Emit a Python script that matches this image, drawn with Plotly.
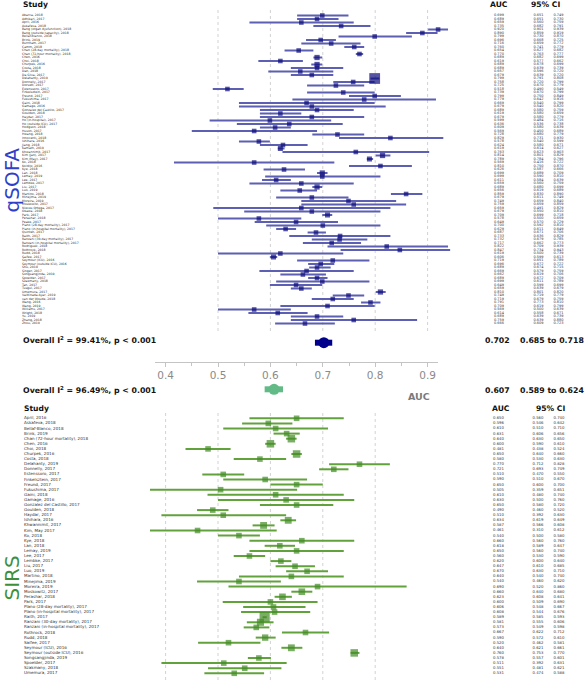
import plotly.graph_objects as go

W, H = 586, 680

# ---------------- qSOFA data ----------------
q_studies = [
    "Abarca, 2018", "Adhikari, 2017", "April, 2016", "Askafeva, 2018",
    "Bang (organ dysfunction), 2018", "Bang (outside capacity), 2018",
    "Bellaf-Blanco, 2018", "Brink, 2019", "Burnham, 2017", "Camm, 2018",
    "Chan (28-day mortality), 2018", "Chan (72-hour mortality), 2018",
    "Chen, 2016", "Choi, 2018", "Churpek, 2016", "Costa, 2018", "Dan, 2018",
    "Da Silva, 2017", "Delahanty, 2019", "Donnelly, 2017", "Dorsett, 2017",
    "Estenssoro, 2017", "Finkelsztein, 2017", "Freund, 2017",
    "Fukushima, 2017", "Gaini, 2018", "Gamage, 2016",
    "Gonzalez del Castillo, 2017", "Goulden, 2018", "Haydar, 2017",
    "Ho (in-hospital), 2017", "Ho (outside ICU), 2017", "Hodgson, 2018",
    "Huson, 2017", "Hwang, 2018", "Innocenti, 2018", "Ishihara, 2016",
    "Jiang, 2018", "Kamath, 2019", "Khwannimit, 2017", "Kim (Jan), 2017",
    "Kim (May), 2017", "Ko, 2018", "Kolditz, 2016", "Kye, 2018", "Lan, 2018",
    "Lemay, 2019", "Lee, 2017", "Lembke, 2017", "Liu, 2017", "Luo, 2019",
    "Martino, 2018", "Minejima, 2019", "Moreira, 2019", "Moskowitz, 2017",
    "Nieves Ortega, 2017", "Okawa, 2018", "Park, 2017", "Perashar, 2018",
    "Peake, 2017", "Plano (28-day mortality), 2017",
    "Plano (in-hospital mortality), 2017", "Quinten, 2017", "Raith, 2017",
    "Ranzani (30-day mortality), 2017", "Ranzani (in-hospital mortality), 2017",
    "Rodriguez, 2018", "Rothrock, 2018", "Rudd, 2018", "Saifee, 2017",
    "Seymour (ICU), 2016", "Seymour (outside ICU), 2016", "Shu, 2019",
    "Singer, 2017", "Songsangjinda, 2019", "Spoelder, 2017", "Szakmany, 2018",
    "Tan, 2017", "Tusgul, 2017", "Umemura, 2017", "Vaittinada Ayar, 2019",
    "van der Woude, 2018", "Wang, 2016", "Wang, 2019", "Williams, 2017",
    "Wright, 2018", "Yu, 2019", "Zhang, 2018", "Zhou, 2019",
]
q_auc = [0.699, 0.689, 0.659, 0.735, 0.920, 0.890, 0.799, 0.696, 0.716, 0.760,
         0.654, 0.770, 0.689, 0.619, 0.689, 0.689, 0.657, 0.679, 0.799, 0.758,
         0.725, 0.518, 0.739, 0.799, 0.779, 0.669, 0.679, 0.689, 0.619, 0.679,
         0.599, 0.636, 0.609, 0.569, 0.728, 0.829, 0.578, 0.624, 0.619, 0.763,
         0.814, 0.789, 0.569, 0.810, 0.626, 0.699, 0.699, 0.611, 0.659, 0.689,
         0.656, 0.859, 0.679, 0.749, 0.759, 0.659, 0.679, 0.709, 0.578, 0.649,
         0.700, 0.629, 0.687, 0.733, 0.732, 0.717, 0.822, 0.847, 0.619, 0.606,
         0.719, 0.696, 0.689, 0.669, 0.662, 0.689, 0.699, 0.649, 0.659, 0.810,
         0.749, 0.719, 0.791, 0.709, 0.569, 0.614, 0.689, 0.759, 0.666]
q_lo = [0.651, 0.651, 0.560, 0.682, 0.901, 0.859, 0.730, 0.668, 0.659, 0.741,
        0.627, 0.763, 0.682, 0.577, 0.678, 0.639, 0.596, 0.639, 0.791, 0.720,
        0.670, 0.490, 0.670, 0.750, 0.642, 0.540, 0.540, 0.580, 0.580, 0.580,
        0.484, 0.536, 0.580, 0.450, 0.680, 0.731, 0.540, 0.580, 0.614, 0.623,
        0.801, 0.784, 0.416, 0.750, 0.587, 0.689, 0.590, 0.584, 0.560, 0.680,
        0.619, 0.830, 0.611, 0.659, 0.659, 0.491, 0.550, 0.699, 0.500, 0.570,
        0.592, 0.611, 0.671, 0.636, 0.679, 0.662, 0.709, 0.734, 0.500, 0.599,
        0.651, 0.672, 0.674, 0.579, 0.619, 0.672, 0.611, 0.599, 0.639, 0.801,
        0.719, 0.679, 0.773, 0.619, 0.500, 0.558, 0.639, 0.639, 0.609]
q_hi = [0.749, 0.730, 0.759, 0.791, 0.939, 0.919, 0.870, 0.725, 0.772, 0.779,
        0.682, 0.777, 0.699, 0.662, 0.699, 0.739, 0.720, 0.720, 0.808, 0.799,
        0.779, 0.549, 0.799, 0.849, 0.916, 0.799, 0.820, 0.759, 0.659, 0.779,
        0.716, 0.738, 0.639, 0.689, 0.779, 0.930, 0.599, 0.671, 0.627, 0.903,
        0.829, 0.796, 0.722, 0.870, 0.666, 0.709, 0.810, 0.639, 0.759, 0.699,
        0.689, 0.890, 0.749, 0.840, 0.859, 0.829, 0.810, 0.718, 0.659, 0.729,
        0.810, 0.649, 0.706, 0.829, 0.785, 0.773, 0.939, 0.943, 0.739, 0.613,
        0.789, 0.722, 0.715, 0.759, 0.706, 0.709, 0.789, 0.699, 0.679, 0.820,
        0.779, 0.759, 0.810, 0.799, 0.639, 0.671, 0.739, 0.880, 0.723]
q_weight = [1.0] * len(q_auc)
for _i, _w in [(12, 1.3), (14, 1.3), (18, 5.5), (38, 1.2), (40, 1.3), (41, 1.2),
               (45, 1.3), (49, 1.3), (57, 1.2), (69, 1.2), (79, 1.3)]:
    q_weight[_i] = _w

q_overall = [0.702, 0.685, 0.718]
q_i2 = "99.41%"

# ---------------- SIRS data ----------------
s_studies = [
    "April, 2016", "Askafeva, 2018", "Bellaf-Blanco, 2018", "Brink, 2019",
    "Chan (72-hour mortality), 2018", "Chen, 2016", "Choi, 2018",
    "Churpek, 2016", "Costa, 2018", "Delahanty, 2019", "Donnelly, 2017",
    "Estenssoro, 2017", "Finkelsztein, 2017", "Freund, 2017",
    "Fukushima, 2017", "Gaini, 2018", "Gamage, 2016",
    "Gonzalez del Castillo, 2017", "Goulden, 2018", "Haydar, 2017",
    "Ishihara, 2016", "Khwannimit, 2017", "Kim, May 2017", "Ko, 2018",
    "Kye, 2018", "Lan, 2018", "Lemay, 2019", "Lee, 2017", "Lembke, 2017",
    "Liu, 2017", "Luo, 2019", "Martino, 2018", "Minejima, 2019",
    "Moreira, 2019", "Moskowitz, 2017", "Perashar, 2018", "Park, 2017",
    "Plano (28-day mortality), 2017", "Plano (in-hospital mortality), 2017",
    "Raith, 2017", "Ranzani (30-day mortality), 2017",
    "Ranzani (in-hospital mortality), 2017", "Rothrock, 2018", "Rudd, 2018",
    "Saifee, 2017", "Seymour (ICU), 2016", "Seymour (outside ICU), 2016",
    "Songsangjinda, 2019", "Spoelder, 2017", "Szakmany, 2018",
    "Umemura, 2017",
]
s_auc = [0.650, 0.596, 0.610, 0.631, 0.640, 0.600, 0.481, 0.650, 0.580, 0.770,
         0.721, 0.510, 0.590, 0.650, 0.505, 0.610, 0.630, 0.650, 0.490, 0.510,
         0.634, 0.587, 0.461, 0.540, 0.660, 0.618, 0.650, 0.560, 0.620, 0.647,
         0.670, 0.640, 0.540, 0.690, 0.660, 0.623, 0.600, 0.606, 0.608, 0.589,
         0.581, 0.573, 0.667, 0.590, 0.520, 0.640, 0.760, 0.578, 0.511, 0.551,
         0.531]
s_lo = [0.560, 0.546, 0.510, 0.606, 0.630, 0.590, 0.438, 0.640, 0.530, 0.712,
        0.693, 0.470, 0.510, 0.600, 0.359, 0.480, 0.500, 0.580, 0.460, 0.392,
        0.619, 0.566, 0.310, 0.500, 0.560, 0.589, 0.560, 0.530, 0.600, 0.610,
        0.630, 0.540, 0.460, 0.520, 0.640, 0.608, 0.509, 0.548, 0.544, 0.585,
        0.555, 0.549, 0.622, 0.572, 0.462, 0.621, 0.753, 0.557, 0.392, 0.481,
        0.474]
s_hi = [0.740, 0.642, 0.710, 0.656, 0.650, 0.610, 0.524, 0.660, 0.630, 0.828,
        0.749, 0.550, 0.670, 0.700, 0.651, 0.740, 0.760, 0.720, 0.520, 0.630,
        0.649, 0.608, 0.612, 0.580, 0.760, 0.647, 0.740, 0.590, 0.640, 0.685,
        0.710, 0.740, 0.620, 0.860, 0.680, 0.641, 0.690, 0.667, 0.676, 0.593,
        0.606, 0.598, 0.712, 0.610, 0.581, 0.661, 0.770, 0.601, 0.631, 0.621,
        0.588]
s_weight = [1.0] * len(s_auc)
for _i, _w in [(4, 1.8), (5, 1.8), (7, 1.8), (20, 1.5), (21, 1.5), (34, 1.4),
               (35, 1.4), (39, 3.3), (40, 1.6), (45, 1.5), (46, 1.8), (43, 1.3)]:
    s_weight[_i] = _w

s_overall = [0.607, 0.589, 0.624]
s_i2 = "96.49%"

axis_ticks = [0.4, 0.5, 0.6, 0.7, 0.8, 0.9]
q_grid = [0.5, 0.6, 0.7, 0.8, 0.9]
s_grid = [0.4, 0.5, 0.6, 0.7, 0.8]

# ---------------- layout geometry (pixels) ----------------
PX_PER_UNIT = 524.0
PX_AT_HALF = 218.0           # pixel x of AUC 0.5
PLOT_LEFT = 150.0


def v_at(px_x):
    return 0.5 + (px_x - PX_AT_HALF) / PX_PER_UNIT


def py(px_y):
    return 1 - px_y / H


def px(px_x):
    return px_x / W


Q_ROW0, Q_STEP = 15.5, 3.5
S_ROW0, S_STEP = 418.3, 5.1


def yr(row0, step):
    return [1 + (H - row0) / step, 1 - row0 / step]


def row_at(px_y, row0, step):
    return 1 + (px_y - row0) / step


nq, ns = len(q_auc), len(s_auc)
q_rows = list(range(1, nq + 1))
s_rows = list(range(1, ns + 1))

Q_LINE, Q_SQ, Q_DIA = "#5c5fb2", "#0c0c7a", "#00008b"
S_LINE, S_SQ, S_DIA = "#62a23c", "#428c25", "#62bb86"
FONT = "DejaVu Sans"

fig = go.Figure()


def ci_trace(lo, hi, rows, color, width, yaxis):
    xs, ys = [], []
    for a, b, r in zip(lo, hi, rows):
        xs += [a, b, None]
        ys += [r, r, None]
    return go.Scatter(x=xs, y=ys, mode="lines", xaxis="x", yaxis=yaxis,
                      line=dict(color=color, width=width), hoverinfo="skip",
                      showlegend=False)


fig.add_trace(ci_trace(q_lo, q_hi, q_rows, Q_LINE, 2.0, "y"))
fig.add_trace(go.Scatter(
    x=q_auc, y=q_rows, mode="markers", xaxis="x", yaxis="y",
    marker=dict(symbol="square", color=Q_SQ,
                size=[4.6 * w ** 0.5 for w in q_weight], line=dict(width=0)),
    hoverinfo="skip", showlegend=False))

fig.add_trace(ci_trace(s_lo, s_hi, s_rows, S_LINE, 2.0, "y2"))
fig.add_trace(go.Scatter(
    x=s_auc, y=s_rows, mode="markers", xaxis="x", yaxis="y2",
    marker=dict(symbol="square", color=S_SQ,
                size=[5.6 * w ** 0.5 for w in s_weight], line=dict(width=0)),
    hoverinfo="skip", showlegend=False))

# overall (pooled) estimates
q_orow = row_at(342.7, Q_ROW0, Q_STEP)
s_orow = row_at(389.3, S_ROW0, S_STEP)
for ov, r, col, ya in [(q_overall, q_orow, Q_DIA, "y"), (s_overall, s_orow, S_DIA, "y2")]:
    fig.add_trace(go.Scatter(x=[ov[1], ov[2]], y=[r, r], mode="lines", xaxis="x",
                             yaxis=ya, line=dict(color=col, width=6),
                             hoverinfo="skip", showlegend=False))
    fig.add_trace(go.Scatter(x=[ov[0]], y=[r], mode="markers", xaxis="x", yaxis=ya,
                             marker=dict(symbol="circle", color=col, size=11,
                                         line=dict(width=0)),
                             hoverinfo="skip", showlegend=False))


def text_col(xpx, rows, texts, ya, size, pos="middle center", color="#333333"):
    return go.Scatter(x=[xpx] * len(rows), y=rows, text=texts, mode="text",
                      xaxis="x2", yaxis=ya, textposition=pos,
                      textfont=dict(family=FONT, size=size, color=color),
                      hoverinfo="skip", showlegend=False)


fmt = lambda vals: ["%.3f" % v for v in vals]
fig.add_trace(text_col(22, q_rows, q_studies, "y", 3.1, "middle right"))
fig.add_trace(text_col(499, q_rows, fmt(q_auc), "y", 3.5))
fig.add_trace(text_col(538.5, q_rows, fmt(q_lo), "y", 3.5))
fig.add_trace(text_col(558.5, q_rows, fmt(q_hi), "y", 3.5))
fig.add_trace(text_col(24, s_rows, s_studies, "y2", 4.1, "middle right"))
fig.add_trace(text_col(498.5, s_rows, fmt(s_auc), "y2", 3.8))
fig.add_trace(text_col(538, s_rows, fmt(s_lo), "y2", 3.8))
fig.add_trace(text_col(559, s_rows, fmt(s_hi), "y2", 3.8))

# dummy trace so the tick axis is drawn
fig.add_trace(go.Scatter(x=[axis_ticks[0], axis_ticks[-1]], y=[None, None],
                         xaxis="x3", yaxis="y", mode="markers",
                         hoverinfo="skip", showlegend=False))

# gridlines
shapes = []
for g in q_grid:
    shapes.append(dict(type="line", xref="x", yref="paper", x0=g, x1=g,
                       y0=py(331), y1=py(7), layer="below",
                       line=dict(color="#d2d2d2", width=1, dash="dot")))
for g in s_grid:
    shapes.append(dict(type="line", xref="x", yref="paper", x0=g, x1=g,
                       y0=py(680), y1=py(412), layer="below",
                       line=dict(color="#d2d2d2", width=1, dash="dot")))

ann = []


def A(text, x, y, size, color="#111111", xanchor="center", bold=True, angle=0):
    ann.append(dict(text=("<b>%s</b>" % text) if bold else text, x=px(x), y=py(y),
                    xref="paper", yref="paper", showarrow=False, xanchor=xanchor,
                    yanchor="middle", textangle=angle, borderpad=0,
                    font=dict(family=FONT, size=size, color=color)))


A("Study", 22, 4.5, 7.6, xanchor="left")
A("AUC", 498.5, 4.5, 7.6)
A("95% CI", 545, 4.5, 7.6)
A("Study", 23, 408, 7.6, xanchor="left")
A("AUC", 500.5, 408, 7.6)
A("95% CI", 550, 408, 7.6)
A("Overall I<sup>2</sup> = %s, p &lt; 0.001" % q_i2, 22, 339.5, 7.8, xanchor="left")
A("%.3f" % q_overall[0], 497.5, 340, 7.8)
A("%.3f to %.3f" % (q_overall[1], q_overall[2]), 585, 340, 7.8, xanchor="right")
A("Overall I<sup>2</sup> = %s, p &lt; 0.001" % s_i2, 22, 389.5, 7.8, xanchor="left")
A("%.3f" % s_overall[0], 497.5, 390, 7.8)
A("%.3f to %.3f" % (s_overall[1], s_overall[2]), 585, 390, 7.8, xanchor="right")
A("AUC", 419, 396.5, 9.5, color="#7a7a7a")
A("qSOFA", 11.5, 180, 20, color="#2f3fc8", bold=False, angle=-90)
A("SIRS", 11.5, 578, 20, color="#3f8f3a", bold=False, angle=-90)

fig.update_layout(
    width=W, height=H, margin=dict(l=0, r=0, t=0, b=0),
    paper_bgcolor="white", plot_bgcolor="rgba(0,0,0,0)", showlegend=False,
    shapes=shapes, annotations=ann,
    xaxis=dict(domain=[px(PLOT_LEFT), 1], range=[v_at(PLOT_LEFT), v_at(W)],
               visible=False, fixedrange=True),
    xaxis2=dict(domain=[0, 1], range=[0, W], visible=False, anchor="y",
                fixedrange=True),
    xaxis3=dict(domain=[px(155), px(438)], range=[v_at(155), v_at(438)],
                anchor="free", position=py(361.7), showline=True,
                linecolor="#c4c4c4", linewidth=1, showgrid=False, zeroline=False,
                tickmode="array", tickvals=axis_ticks,
                ticktext=["%.1f" % t for t in axis_ticks],
                ticks="outside", ticklen=4, tickcolor="#c4c4c4",
                minor=dict(tickvals=[t + 0.05 for t in axis_ticks[:-1]],
                           ticks="outside", ticklen=3, tickcolor="#c4c4c4"),
                tickfont=dict(family=FONT, size=10.5, color="#8a8a8a"),
                fixedrange=True),
    yaxis=dict(domain=[0, 1], range=yr(Q_ROW0, Q_STEP), visible=False,
               fixedrange=True),
    yaxis2=dict(domain=[0, 1], range=yr(S_ROW0, S_STEP), visible=False,
                overlaying="y", fixedrange=True),
)

fig.write_html("out.html", config={"displayModeBar": False},
               post_script="document.body.style.margin='0';"
                           "document.body.style.padding='0';"
                           "document.body.style.overflow='hidden';")
